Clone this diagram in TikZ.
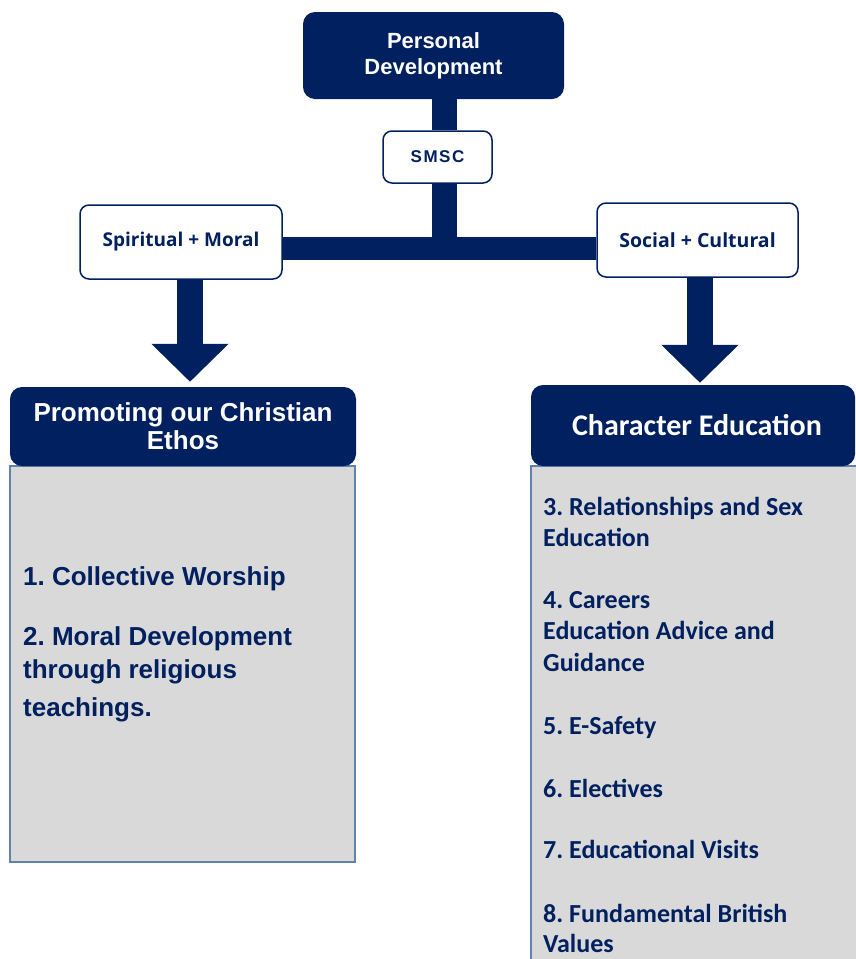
\documentclass[tikz,border=0pt]{standalone}
\usepackage{fontspec}
\setmainfont{Liberation Sans}
\newfontfamily\calfont{Carlito}
\newfontfamily\osfont{Open Sans}
\usetikzlibrary{arrows.meta,backgrounds}
\definecolor{navy}{RGB}{0,32,96}
\definecolor{panelgray}{RGB}{217,217,217}
\definecolor{panelborder}{RGB}{95,130,175}
\frenchspacing
\begin{document}
\begin{tikzpicture}[x=1pt,y=-1pt,
  darkbox/.style={draw=none, fill=navy, text=white, rounded corners=12pt, inner sep=0pt, align=center},
  whitebox/.style={draw=navy, line width=1.5pt, fill=white, rounded corners=9pt, text=navy, inner sep=0pt},
  panelbody/.style={draw=panelborder, line width=2pt, fill=panelgray, inner sep=0pt},
  bar/.style={draw=navy, line width=25pt},
  blockarrow/.style={draw=navy, line width=26pt, -{Triangle[width=75pt,length=38pt]}},
  lbody/.style={anchor=base west, text=navy, font=\fontsize{26}{31}\selectfont\bfseries, inner sep=0pt},
  rbody/.style={anchor=base west, text=navy, font=\calfont\fontsize{26}{32}\selectfont\bfseries, inner sep=0pt},
]
\useasboundingbox (0,0) rectangle (856,959);

% top boxes
\node[darkbox, minimum width=261pt, minimum height=87pt, font=\fontsize{22}{26}\selectfont\bfseries] (PD) at (433.5,55.5) {Personal\\Development};
\node[whitebox, minimum width=109pt, minimum height=52pt, font=\fontsize{17}{20}\selectfont\bfseries] (SMSC) at (437.5,157) {S\kern1.5pt M\kern1.5pt S\kern1.5pt C};
\node[whitebox, minimum width=202pt, minimum height=74pt, font=\osfont\fontsize{19}{22}\selectfont\bfseries] (SM) at (181,242) {Spiritual + Moral};
\node[whitebox, minimum width=201pt, minimum height=74pt, font=\osfont\fontsize{19.5}{22}\selectfont\bfseries] (SC) at (697.5,240) {Social + Cultural};

% panels
\node[panelbody, minimum width=345pt, minimum height=396pt] (LB) at (182.5,664) {};
\node[darkbox, minimum width=346pt, minimum height=79pt, font=\fontsize{26}{28}\selectfont\bfseries] (LH) at (183,426.5) {Promoting our Christian\\Ethos};
\node[panelbody, minimum width=339pt, minimum height=509pt] (RB) at (700.5,720.5) {};
\node[darkbox, minimum width=324pt, minimum height=81pt, font=\calfont\fontsize{30}{34}\selectfont\bfseries] (RH) at (693,425.5) {\hspace*{8pt}Character Education};

% connectors
\coordinate (tr) at (444.5,248.5);
\begin{pgfonlayer}{background}
\draw[bar] (tr |- PD.south) -- (tr |- SMSC.north);
\draw[bar] (tr |- SMSC.south) -- (tr);
\draw[navy, line width=23pt] (SM.east |- tr) -- (SC.west |- tr);
\end{pgfonlayer}
\path (SM.south) ++(9,0) coordinate (la);
\path (SC.south) ++(2.5,0) coordinate (ra);
\draw[blockarrow, shorten >=5pt] (la) -- (la |- LH.north);
\draw[blockarrow, shorten >=2pt] (ra) -- (ra |- RH.north);

% left body text
\node[lbody] (l1) at (23,585) {1. Collective Worship};
\node[lbody] (l2) at (23,645) {2. Moral Development};
\node[lbody] (l3) at (23,678) {through religious};
\node[lbody] (l4) at (23,716) {teachings.};

% right body text
\node[rbody] (r1) at (543,515) {3. Relationships and Sex};
\node[rbody] (r2) at (543,546) {Education};
\node[rbody] (r3) at (543,608) {4. Careers};
\node[rbody] (r4) at (543,639) {Education Advice and};
\node[rbody] (r5) at (543,671) {Guidance};
\node[rbody] (r6) at (543,734) {5. E-Safety};
\node[rbody] (r7) at (543,797) {6. Electives};
\node[rbody] (r8) at (543,858) {7. Educational Visits};
\node[rbody] (r9) at (543,922) {8. Fundamental British};
\node[rbody] (r10) at (543,952) {Values};
\end{tikzpicture}
\end{document}
